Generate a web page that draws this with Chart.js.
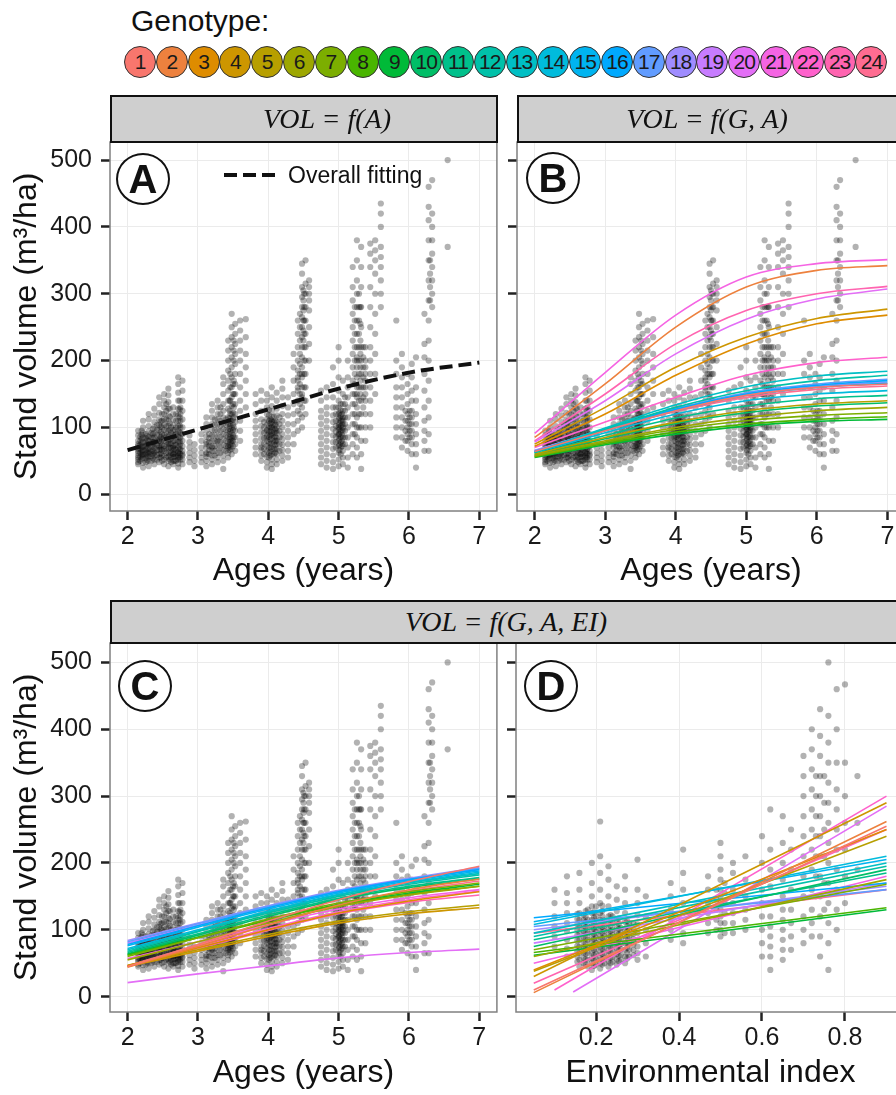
<!DOCTYPE html>
<html>
<head>
<meta charset="utf-8">
<script src="https://cdn.jsdelivr.net/npm/chart.js@4.4.1/dist/chart.umd.min.js"></script>
<style>
html, body { margin: 0; padding: 0; background: #fff; overflow: hidden; width: 896px; height: 1095px; }
#page { position: relative; width: 930px; height: 1095px; font-family: "Liberation Sans", Arial, sans-serif; color: #111; }
canvas { position: absolute; }
.strip { position: absolute; background: #cfcfcf; border: 2px solid #111; box-sizing: border-box; }
.stripText { position: absolute; width: 300px; text-align: center; font-family: "Liberation Serif", "DejaVu Serif", serif; font-style: italic; font-size: 28px; line-height: 30px; color: #111; }
.tag { position: absolute; width: 54px; height: 52px; border: 2px solid #111; border-radius: 50%; background: #fff; box-sizing: border-box;
       font-weight: bold; font-size: 40px; line-height: 48px; text-align: center; }
.geno { position: absolute; top: 46px; width: 32px; height: 32px; border: 1.5px solid #333; border-radius: 50%; box-sizing: border-box;
        font-size: 21px; line-height: 29px; text-align: center; color: #1a1a1a; letter-spacing: -1px; }
#genoTitle { position: absolute; left: 131px; top: 4px; font-size: 30px; }
#fitKey { position: absolute; left: 224px; top: 173px; width: 54px; height: 4px;
          background: repeating-linear-gradient(90deg, #111 0 13px, transparent 13px 19px); }
#fitText { position: absolute; left: 288px; top: 161px; font-size: 23px; line-height: 28px; }
</style>
</head>
<body>
<div id="page">
  <canvas id="panelA" width="500" height="470" style="left:0;top:130px"></canvas>
  <canvas id="panelB" width="410" height="470" style="left:500px;top:130px"></canvas>
  <canvas id="panelC" width="500" height="464" style="left:0;top:631px"></canvas>
  <canvas id="panelD" width="410" height="464" style="left:500px;top:631px"></canvas>

  <div id="genoTitle">Genotype:</div>
  <div id="genoRow"></div>

  <div class="strip" style="left:110px;top:95px;width:388px;height:48px"></div>
  <div class="stripText" style="left:177px;top:104px">VOL = f(A)</div>
  <div class="strip" style="left:517px;top:95px;width:400px;height:48px"></div>
  <div class="stripText" style="left:557px;top:104px">VOL = f(G, A)</div>
  <div class="strip" style="left:110px;top:600px;width:810px;height:44px"></div>
  <div class="stripText" style="left:356px;top:607px">VOL = f(G, A, EI)</div>

  <div class="tag" style="left:116px;top:153px">A</div>
  <div class="tag" style="left:526px;top:152px">B</div>
  <div class="tag" style="left:118px;top:660px">C</div>
  <div class="tag" style="left:524px;top:660px">D</div>

  <div id="fitKey"></div>
  <div id="fitText">Overall fitting</div>
</div>

<script>
const FONT = '"Liberation Sans", Arial, sans-serif';
Chart.defaults.font.family = FONT;

// ---- data ----
const genotypes = ['1','2','3','4','5','6','7','8','9','10','11','12','13','14','15','16','17','18','19','20','21','22','23','24'];
const ageTicks = [2, 3, 4, 5, 6, 7];
const volTicks = [0, 100, 200, 300, 400, 500];
const eiTicks = [0.2, 0.4, 0.6, 0.8];

// observed stand volume, grouped in vertical strips by age
const ageStripX = [
  2.15, 2.22, 2.30, 2.38, 2.45, 2.52, 2.58, 2.65, 2.72, 2.78, 2.88, 2.95,
  3.05, 3.12, 3.20, 3.28, 3.36, 3.43, 3.48, 3.53, 3.60, 3.68,
  3.82, 3.90, 3.98, 4.05, 4.12, 4.20, 4.28, 4.36, 4.42, 4.48, 4.53, 4.58,
  4.75, 4.83, 4.92, 5.00, 5.06, 5.13, 5.20, 5.26, 5.32, 5.38, 5.45, 5.52, 5.60,
  5.82, 5.90, 5.98, 6.04, 6.10, 6.22, 6.28, 6.33, 6.55,
  // denser cores
  2.18, 2.26, 2.34, 2.42, 2.49, 2.55, 2.62, 2.69, 2.75,
  3.16, 3.24, 3.32, 3.40, 3.46, 3.51,
  3.94, 4.01, 4.08, 4.16, 4.45, 4.51,
  4.96, 5.03, 5.09, 5.23, 5.29, 5.35,
  5.95, 6.01, 6.30,
  2.20, 2.28, 2.36, 2.47, 2.60, 2.67, 2.74, 3.45, 3.50, 4.03, 4.10, 4.50, 5.01, 5.05, 5.31
];
const ageStripVol = [
  [45, 52, 58, 62, 68, 75, 80, 88, 95, 55, 48, 65, 72],
  [40, 47, 55, 60, 66, 72, 78, 85, 92, 100, 110, 58, 63, 70],
  [42, 50, 56, 62, 68, 74, 80, 86, 94, 102, 112, 120, 60, 65],
  [45, 52, 58, 64, 70, 78, 85, 92, 100, 108, 118, 128, 62, 75],
  [48, 55, 60, 66, 72, 80, 88, 96, 104, 112, 122, 135, 145, 70, 82],
  [45, 52, 58, 65, 72, 80, 88, 96, 104, 112, 120, 130, 140, 150, 68, 85],
  [42, 50, 56, 62, 70, 78, 86, 94, 102, 110, 118, 128, 138, 148, 158, 75],
  [45, 50, 56, 60, 66, 72, 80, 88, 96, 104, 112, 120, 130, 60, 70],
  [40, 46, 52, 58, 64, 70, 78, 86, 94, 102, 110, 118, 128, 140, 152, 165, 175, 55, 62],
  [45, 52, 58, 65, 72, 80, 90, 100, 112, 125, 140, 155, 170, 60],
  [48, 55, 62, 70, 78, 88],
  [42, 50, 58, 66, 75],
  [48, 55, 62, 70, 80, 90],
  [42, 50, 56, 62, 70, 78, 86, 95, 105, 115, 60, 75],
  [45, 52, 58, 65, 72, 80, 88, 96, 105, 115, 125, 135, 70],
  [48, 55, 62, 70, 78, 86, 95, 104, 112, 120, 130, 140, 80],
  [38, 50, 58, 66, 74, 82, 90, 98, 106, 115, 125, 135, 150, 165, 175],
  [55, 62, 70, 78, 86, 95, 105, 115, 128, 140, 155, 170, 185, 200, 215, 230, 72],
  [60, 68, 76, 84, 92, 100, 110, 120, 132, 145, 160, 175, 190, 205, 220, 235, 250, 270, 80],
  [65, 75, 85, 95, 108, 120, 135, 150, 165, 180, 195, 210, 225, 240, 255],
  [80, 95, 110, 125, 140, 160, 180, 200, 215, 230, 245, 260],
  [130, 150, 170, 190, 210, 235, 262],
  [60, 70, 80, 90, 100, 110, 120, 135, 150],
  [50, 58, 66, 75, 84, 93, 102, 112, 125, 140, 155, 70],
  [40, 48, 56, 64, 72, 80, 88, 96, 104, 112, 120, 130, 140, 150, 85, 95],
  [38, 45, 52, 60, 68, 76, 84, 92, 100, 108, 116, 124, 132, 145, 160, 90, 100, 110],
  [45, 52, 60, 68, 76, 84, 92, 100, 108, 118, 128, 140, 152, 80, 95],
  [50, 58, 66, 74, 82, 90, 100, 110, 120, 132, 145, 158, 170],
  [55, 65, 75, 85, 95, 105, 118, 130, 145],
  [75, 90, 105, 120, 135, 150, 170, 190, 210],
  [95, 110, 125, 140, 155, 170, 185, 200, 220, 240, 260, 160, 175],
  [100, 115, 130, 145, 160, 175, 190, 205, 220, 235, 250, 265, 280, 295, 310, 330, 345, 150, 180],
  [120, 140, 160, 180, 200, 220, 240, 260, 280, 300, 315, 350],
  [200, 225, 250, 275, 290, 300, 310, 320],
  [45, 55, 65, 75, 85, 95, 105, 115, 125, 140, 155],
  [40, 50, 60, 70, 80, 90, 100, 110, 120, 130, 145, 160],
  [38, 48, 58, 68, 78, 88, 98, 108, 118, 130, 145, 165, 190],
  [42, 52, 62, 72, 80, 88, 96, 104, 112, 120, 130, 140, 155, 175, 200, 220, 90, 100],
  [45, 55, 65, 75, 85, 95, 105, 115, 125, 135, 150, 170, 100, 110],
  [40, 55, 70, 85, 100, 115, 130, 145, 160, 175, 200],
  [60, 75, 90, 105, 120, 135, 150, 170, 190, 210, 230, 250, 270, 290, 310, 340],
  [55, 70, 85, 100, 115, 130, 145, 160, 175, 190, 205, 220, 240, 260, 280, 300, 320, 350, 380, 150, 200],
  [38, 60, 80, 100, 120, 140, 160, 180, 200, 220, 250, 280, 310, 340, 370],
  [80, 100, 120, 140, 160, 180, 200, 220, 150, 170, 190],
  [100, 120, 140, 160, 180, 200, 220, 250, 280, 310, 340, 360, 375],
  [150, 180, 210, 240, 270, 300, 330, 350, 365, 380],
  [280, 300, 320, 340, 355, 370, 400, 420, 435],
  [85, 100, 115, 130, 145, 160, 180, 200, 260],
  [70, 85, 100, 115, 130, 145, 160, 175, 190, 210],
  [65, 80, 90, 100, 110, 120, 135, 150, 165, 180],
  [60, 75, 85, 95, 105, 115, 125, 140, 155, 175, 195],
  [40, 60, 75, 90, 105, 120, 140, 160, 205],
  [65, 80, 95, 110, 130, 155, 180, 205, 225, 270],
  [65, 90, 115, 140, 170, 200, 230, 260, 290, 320, 350, 380, 410, 430, 460],
  [280, 300, 320, 340, 360, 380, 400, 420, 470],
  [370, 500],
  [50, 56, 62, 68, 74, 80, 86],
  [48, 54, 60, 66, 72, 78, 84, 90],
  [50, 57, 64, 71, 78, 85, 92],
  [52, 59, 66, 73, 80, 88, 96, 104],
  [50, 58, 66, 74, 82, 90, 100, 110, 120],
  [55, 62, 70, 78, 86, 94, 102, 112, 125, 135],
  [48, 55, 62, 69, 76, 84, 92, 100],
  [50, 58, 66, 74, 82, 90, 100, 110, 120],
  [52, 60, 68, 76, 84, 92, 100, 110, 120, 130],
  [60, 66, 72, 78, 84, 90],
  [58, 65, 72, 80, 88, 96, 104, 112],
  [62, 70, 78, 86, 94, 102, 110, 120, 130],
  [65, 72, 80, 88, 96, 104, 112],
  [70, 78, 86, 94, 102, 110, 120, 140, 160, 180],
  [85, 100, 115, 130, 150, 170, 200, 215, 230],
  [60, 68, 76, 84, 92, 100, 108],
  [55, 62, 70, 78, 86, 94, 102, 110, 118, 126],
  [60, 68, 76, 84, 92, 100, 108, 116],
  [65, 75, 85, 95, 105, 115],
  [120, 135, 150, 165, 180, 195, 210, 230, 250, 270],
  [140, 160, 180, 200, 220, 240, 260, 280, 300],
  [70, 78, 86, 94, 102, 110, 120, 130],
  [60, 70, 78, 86, 94, 102, 110, 118, 126, 135],
  [75, 85, 95, 105, 115, 125, 135, 145],
  [90, 105, 120, 135, 150, 165, 180, 200, 220, 240, 260, 280],
  [100, 120, 140, 160, 180, 200, 220, 240, 260, 280, 300],
  [130, 145, 160, 175, 190, 205, 220],
  [80, 95, 110, 125],
  [85, 95, 105, 115, 125],
  [290, 310, 330, 350],
  [53, 59, 65, 71, 77, 83, 89, 95],
  [51, 57, 63, 69, 75, 81, 87],
  [54, 60, 66, 72, 78, 84, 90, 98],
  [55, 61, 67, 73, 79, 85, 93, 101, 109],
  [52, 58, 64, 70, 76, 82, 88, 96, 106, 116, 128],
  [50, 56, 62, 68, 74, 80, 88, 96],
  [55, 61, 67, 73, 79, 85, 93, 103, 115, 127, 140],
  [66, 74, 82, 90, 98, 106, 114, 125, 140],
  [72, 80, 88, 96, 104, 112, 122, 135, 150, 165],
  [58, 64, 70, 76, 82, 88, 94, 100, 106, 112],
  [62, 68, 74, 80, 86, 92, 98, 104, 110],
  [230, 245, 260, 275, 290, 305],
  [66, 74, 82, 90, 98, 106, 114, 122],
  [72, 80, 88, 96, 104, 112, 120],
  [150, 170, 190, 210, 230, 255, 280]
];

// observed stand volume, grouped in vertical strips by environmental index
const eiStripX = [0.10, 0.13, 0.16, 0.19, 0.21, 0.23, 0.25, 0.27, 0.30, 0.32, 0.38, 0.41,
  0.47, 0.50, 0.53, 0.56, 0.60, 0.62, 0.65, 0.67, 0.70, 0.72, 0.74, 0.76, 0.78, 0.80, 0.83,
  // denser cores
  0.17, 0.18, 0.20, 0.22, 0.24, 0.26, 0.28, 0.49, 0.51, 0.73, 0.75,
  0.155, 0.175, 0.195, 0.215, 0.235, 0.255, 0.275, 0.29];
const eiStripVol = [
  [75, 90, 105, 120, 140, 160],
  [60, 72, 85, 98, 110, 125, 140, 155, 180],
  [45, 55, 65, 75, 85, 95, 105, 115, 125, 140, 160, 185],
  [40, 50, 58, 66, 74, 82, 90, 98, 106, 115, 125, 135, 150, 170, 200],
  [42, 50, 58, 66, 74, 82, 90, 98, 106, 115, 125, 140, 160, 185, 210, 262],
  [45, 53, 61, 69, 77, 85, 93, 101, 110, 120, 135, 150, 175, 195],
  [48, 56, 64, 72, 80, 88, 96, 105, 115, 128, 145, 165],
  [50, 60, 70, 80, 90, 100, 112, 125, 140, 160, 180],
  [55, 65, 75, 85, 95, 108, 122, 140, 160, 205],
  [60, 80, 100, 120, 150],
  [85, 100, 115, 130, 150, 170],
  [80, 95, 110, 125, 140, 160, 185, 220],
  [95, 110, 125, 140, 160, 180],
  [90, 100, 110, 120, 130, 140, 150, 160, 175, 190, 210, 230],
  [95, 110, 125, 140, 160, 185, 200],
  [100, 115, 130, 150, 175, 210],
  [60, 80, 100, 120, 140, 160, 200, 240],
  [40, 60, 75, 90, 105, 120, 140, 165, 190, 220, 280],
  [55, 70, 85, 100, 115, 130, 150, 175, 200, 230, 270],
  [70, 90, 110, 130, 160, 190, 220, 250],
  [80, 100, 120, 150, 180, 210, 240, 270, 300, 330, 360],
  [90, 110, 130, 160, 190, 220, 250, 280, 310, 340, 370, 400],
  [60, 90, 120, 150, 180, 210, 240, 270, 300, 330, 360, 390, 430],
  [40, 80, 110, 140, 170, 200, 230, 260, 290, 320, 350, 380, 420, 500],
  [100, 130, 160, 190, 220, 250, 280, 310, 350, 400, 460],
  [140, 180, 220, 260, 300, 350, 467],
  [190, 260, 330],
  [50, 58, 66, 74, 82, 90, 98, 106, 114, 122],
  [45, 55, 65, 75, 85, 95, 105, 115, 130],
  [48, 56, 64, 72, 80, 88, 96, 104, 112, 120, 135],
  [50, 58, 66, 74, 82, 90, 98, 106, 114],
  [52, 60, 68, 76, 84, 92, 100, 110, 120],
  [55, 63, 71, 79, 87, 95, 103],
  [60, 70, 80, 90, 100, 110],
  [100, 115, 130, 145, 160],
  [95, 110, 125, 140, 155, 170],
  [150, 180, 210, 240, 270, 300, 330],
  [130, 170, 210, 250, 290, 330],
  [52, 60, 68, 76, 84, 92, 100, 108, 116, 124],
  [48, 56, 64, 72, 80, 88, 96, 104, 112, 120, 128],
  [46, 54, 62, 70, 78, 86, 94, 102, 110, 118, 126],
  [48, 56, 64, 72, 80, 88, 96, 104, 112, 120, 128, 136],
  [50, 58, 66, 74, 82, 90, 98, 106, 114, 122],
  [53, 61, 69, 77, 85, 93, 101, 109, 117],
  [57, 65, 73, 81, 89, 97, 105, 113],
  [62, 70, 78, 86, 94, 102, 110]
];

// fitted curves, read at ages 2..7
const fitAgesA = [2, 3, 4, 5, 6, 7];
const fitVolA = [66, 97, 127, 158, 182, 197];

const fitVolB = [
  [64, 95, 125, 148, 160, 165],
  [85, 165, 250, 310, 335, 342],
  [72, 120, 178, 225, 255, 268],
  [75, 130, 190, 235, 263, 277],
  [60, 85, 108, 125, 135, 140],
  [58, 80, 100, 115, 125, 130],
  [57, 78, 97, 110, 118, 122],
  [56, 76, 93, 105, 112, 116],
  [55, 74, 90, 102, 109, 112],
  [58, 83, 106, 122, 132, 137],
  [60, 88, 114, 132, 143, 148],
  [62, 97, 130, 155, 170, 178],
  [63, 99, 134, 161, 177, 184],
  [62, 92, 120, 140, 150, 155],
  [63, 95, 125, 148, 160, 166],
  [64, 96, 127, 150, 163, 170],
  [65, 98, 128, 152, 165, 172],
  [64, 96, 126, 149, 162, 168],
  [66, 97, 127, 150, 161, 165],
  [78, 140, 210, 262, 292, 307],
  [91, 182, 268, 325, 345, 351],
  [70, 108, 145, 178, 197, 205],
  [80, 150, 225, 275, 300, 311],
  [65, 96, 124, 145, 157, 162]
];

const fitVolC = [
  [45, 78, 113, 145, 172, 195],
  [44, 75, 107, 137, 160, 176],
  [46, 73, 100, 125, 143, 157],
  [45, 68, 90, 110, 124, 133],
  [47, 70, 93, 113, 127, 137],
  [55, 82, 110, 135, 152, 165],
  [60, 88, 116, 140, 157, 170],
  [62, 88, 114, 137, 153, 165],
  [63, 89, 115, 138, 155, 168],
  [64, 92, 120, 145, 163, 176],
  [66, 94, 122, 147, 165, 178],
  [68, 97, 125, 150, 168, 182],
  [70, 98, 127, 152, 170, 184],
  [72, 100, 128, 153, 171, 186],
  [76, 104, 131, 155, 173, 188],
  [78, 106, 133, 157, 175, 190],
  [82, 109, 135, 158, 176, 192],
  [84, 110, 136, 159, 177, 193],
  [80, 107, 134, 157, 175, 191],
  [21, 34, 46, 58, 66, 71],
  [57, 82, 108, 131, 148, 160],
  [46, 74, 102, 127, 145, 158],
  [45, 72, 99, 124, 141, 152],
  [46, 77, 108, 137, 158, 173]
];

// straight fits against environmental index: start / end of each line
const eiStartD = [0.05, 0.05, 0.05, 0.05, 0.05, 0.05, 0.05, 0.05, 0.05, 0.05, 0.05, 0.05,
  0.05, 0.05, 0.05, 0.05, 0.05, 0.05, 0.05, 0.145, 0.05, 0.10, 0.05, 0.05];
const eiEndD = 0.90;
const volStartD = [10, 6, 40, 30, 38, 60, 70, 66, 62, 75, 85, 90, 95, 108, 112, 118, 105, 100, 80, 7, 50, 10, 20, 95];
const volEndD = [255, 262, 250, 290, 240, 175, 168, 133, 130, 190, 185, 195, 200, 210, 205, 170, 160, 165, 170, 285, 180, 300, 250, 160];

// ---- colours (ggplot default hue palette) ----
function hcl(h, c, l) {
  const hr = h * Math.PI / 180;
  const u = c * Math.cos(hr), v = c * Math.sin(hr);
  const Xn = 95.047, Yn = 100, Zn = 108.883;
  const den = Xn + 15 * Yn + 3 * Zn;
  const un = 4 * Xn / den, vn = 9 * Yn / den;
  const Y = Yn * Math.pow((l + 16) / 116, 3);
  const up = u / (13 * l) + un, vp = v / (13 * l) + vn;
  const X = Y * 9 * up / (4 * vp);
  const Z = Y * (12 - 3 * up - 20 * vp) / (4 * vp);
  const x = X / 100, y = Y / 100, z = Z / 100;
  const r = 3.2404542 * x - 1.5371385 * y - 0.4985314 * z;
  const g = -0.9692660 * x + 1.8760108 * y + 0.0415560 * z;
  const b = 0.0556434 * x - 0.2040259 * y + 1.0572252 * z;
  const gam = t => {
    t = Math.max(0, Math.min(1, t));
    return Math.round(255 * (t <= 0.0031308 ? 12.92 * t : 1.055 * Math.pow(t, 1 / 2.4) - 0.055));
  };
  return 'rgb(' + gam(r) + ',' + gam(g) + ',' + gam(b) + ')';
}
const genoColors = genotypes.map((g, i) => hcl(15 * (i + 1), 100, 65));

// legend row
const genoRow = document.getElementById('genoRow');
genotypes.forEach((g, i) => {
  const d = document.createElement('div');
  d.className = 'geno';
  d.style.left = (124 + i * 31.8) + 'px';
  d.style.background = genoColors[i];
  d.textContent = g;
  genoRow.appendChild(d);
});

// ---- chart helpers ----
function stripPoints(xs, vols) {
  const pts = [];
  xs.forEach((x, i) => vols[i].forEach(v => pts.push({ x: x, y: v })));
  return pts;
}
function curvePoints(xs, ys) {
  return xs.map((x, i) => ({ x: x, y: ys[i] }));
}

const agePoints = stripPoints(ageStripX, ageStripVol);
const eiPoints = stripPoints(eiStripX, eiStripVol);

function scatterSet(pts) {
  return {
    type: 'scatter', data: pts, order: 2,
    pointRadius: 3.1, pointHoverRadius: 0, borderWidth: 0,
    backgroundColor: 'rgba(0,0,0,0.3)'
  };
}
function lineSet(pts, color, width, dash) {
  return {
    type: 'line', data: pts, order: 1,
    borderColor: color, borderWidth: width, borderDash: dash || [],
    pointRadius: 0, fill: false, cubicInterpolationMode: 'monotone'
  };
}

const panelFrame = {
  id: 'panelFrame',
  afterDraw(chart) {
    const { ctx, chartArea: a } = chart;
    ctx.save();
    ctx.strokeStyle = '#808080';
    ctx.lineWidth = 1.5;
    ctx.strokeRect(a.left, a.top, a.right - a.left, a.bottom - a.top);
    ctx.restore();
  }
};

function noPad(s) {
  s.paddingTop = 0; s.paddingBottom = 0; s.paddingLeft = 0; s.paddingRight = 0;
}

function makePanel(id, p) {
  return new Chart(document.getElementById(id), {
    type: 'scatter',
    data: { datasets: p.datasets },
    options: {
      responsive: false,
      animation: false,
      events: [],
      layout: { padding: { top: 12, right: p.padRight, left: 0, bottom: 0 } },
      plugins: { legend: { display: false }, tooltip: { enabled: false } },
      scales: {
        x: {
          type: 'linear', min: p.xMin, max: p.xMax,
          afterBuildTicks: s => { s.ticks = p.xTicks.map(v => ({ value: v })); },
          afterFit: s => { s.height = p.xHeight; noPad(s); },
          border: { display: false },
          grid: { color: '#ebebeb', lineWidth: 1, drawTicks: true, tickLength: 9, tickWidth: 2.5, tickColor: '#222' },
          ticks: { font: { size: 25 }, color: '#1a1a1a', padding: 2, maxRotation: 0, autoSkip: false, callback: p.xFormat },
          title: { display: true, text: p.xTitle, font: { size: 32 }, color: '#111', padding: { top: 0, bottom: p.xTitlePad } }
        },
        y: {
          type: 'linear', min: p.yMin, max: p.yMax,
          afterBuildTicks: s => { s.ticks = volTicks.map(v => ({ value: v })); },
          afterFit: s => { s.width = p.yWidth; noPad(s); },
          border: { display: false },
          grid: { color: '#ebebeb', lineWidth: 1, drawTicks: true, tickLength: 9, tickWidth: 2.5, tickColor: '#222' },
          ticks: { font: { size: 25 }, color: '#1a1a1a', padding: 9, autoSkip: false,
                   callback: v => p.yLabels ? String(v) : '' },
          title: { display: p.yLabels, text: 'Stand volume (m\u00b3/ha)', font: { size: 32 }, color: '#111', padding: { top: 8, bottom: 0 } }
        }
      }
    },
    plugins: [panelFrame]
  });
}

const ageFormat = v => String(v);
const eiFormat = v => v.toFixed(1);

// Panel A: overall fit
makePanel('panelA', {
  datasets: [scatterSet(agePoints), lineSet(curvePoints(fitAgesA, fitVolA), '#111', 4, [13, 6])],
  xMin: 1.75, xMax: 7.25, xTicks: ageTicks, xFormat: ageFormat, xTitle: 'Ages (years)', xHeight: 89, xTitlePad: 10,
  yMin: -25, yMax: 527, yWidth: 110, yLabels: true, padRight: 2
});

// Panel B: genotype x age
makePanel('panelB', {
  datasets: [scatterSet(agePoints)].concat(fitVolB.map((ys, i) => lineSet(curvePoints(fitAgesA, ys), genoColors[i], 1.6))),
  xMin: 1.75, xMax: 7.25, xTicks: ageTicks, xFormat: ageFormat, xTitle: 'Ages (years)', xHeight: 89, xTitlePad: 10,
  yMin: -25, yMax: 527, yWidth: 17, yLabels: false, padRight: 5
});

// Panel C: genotype x age x environment, against age
makePanel('panelC', {
  datasets: [scatterSet(agePoints)].concat(fitVolC.map((ys, i) => lineSet(curvePoints(fitAgesA, ys), genoColors[i], 1.6))),
  xMin: 1.75, xMax: 7.25, xTicks: ageTicks, xFormat: ageFormat, xTitle: 'Ages (years)', xHeight: 83, xTitlePad: 3,
  yMin: -23, yMax: 529, yWidth: 110, yLabels: true, padRight: 2
});

// Panel D: against environmental index
makePanel('panelD', {
  datasets: [scatterSet(eiPoints)].concat(genotypes.map((g, i) =>
    lineSet([{ x: eiStartD[i], y: volStartD[i] }, { x: eiEndD, y: volEndD[i] }], genoColors[i], 1.6))),
  xMin: 0.0072, xMax: 0.9446, xTicks: eiTicks, xFormat: eiFormat, xTitle: 'Environmental index', xHeight: 83, xTitlePad: 3,
  yMin: -23, yMax: 529, yWidth: 16, yLabels: false, padRight: 5
});
</script>
</body>
</html>
